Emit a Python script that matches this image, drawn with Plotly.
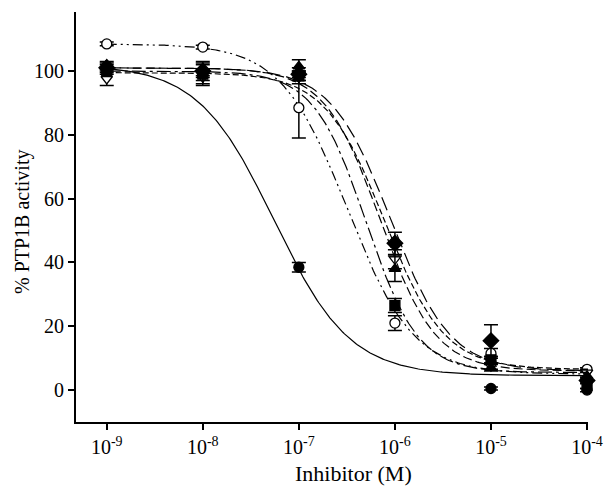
import numpy as np
import plotly.graph_objects as go

# concentrations (M)
conc = [1e-9, 1e-8, 1e-7, 1e-6, 1e-5, 1e-4]

# measured % activity (mean) and error
open_circle_y = [108.5, 107.5, 88.5, 21.0, 11.5, 6.5]
open_circle_e = [0.6, 0.6, 9.5, 2.3, 1.5, 0.5]
filled_circle_y = [101.5, 99.5, 38.5, None, 0.5, 0.0]
filled_circle_e = [1.0, 1.0, 1.5, 0.0, 0.5, 0.5]
tri_up_y = [102.0, 100.0, 101.5, 38.0, 7.0, 4.5]
tri_up_e = [1.0, 2.0, 2.0, 4.0, 1.0, 1.0]
tri_down_y = [97.5, 98.0, 98.0, 41.0, 7.5, 5.5]
tri_down_e = [2.0, 2.0, 2.0, 3.0, 1.0, 1.0]
diamond_y = [101.0, 100.0, 99.0, 46.0, 15.5, 3.0]
diamond_e = [1.0, 3.0, 2.0, 3.5, 5.0, 1.0]
square_y = [100.0, 99.0, 98.5, 26.5, 9.5, 1.5]
square_e = [1.0, 3.5, 1.5, 2.2, 1.0, 1.0]

# fitted 4-parameter logistic parameters: top, bottom, IC50, hill
fit_open_circle = (108.5, 5.0, 3.2e-7, 1.26)
fit_filled_circle = (102.0, 4.5, 5.5e-8, 1.1)
fit_tri_up = (101.0, 6.0, 7.0e-7, 1.5)
fit_tri_down = (99.5, 6.5, 7.8e-7, 1.4)
fit_diamond = (101.0, 6.0, 9.0e-7, 1.4)
fit_square = (100.0, 5.5, 5.0e-7, 1.6)

x_tick_vals = [1e-9, 1e-8, 1e-7, 1e-6, 1e-5, 1e-4]
x_tick_text = ["10<sup>-9</sup>", "10<sup>-8</sup>", "10<sup>-7</sup>",
               "10<sup>-6</sup>", "10<sup>-5</sup>", "10<sup>-4</sup>"]
y_tick_vals = [0, 20, 40, 60, 80, 100]
x_title = "Inhibitor (M)"
y_title = "% PTP1B activity"

xs = np.logspace(-9, -4, 300)


def curve(p):
    top, bot, ic50, h = p
    return bot + (top - bot) / (1 + (xs / ic50) ** h)


fig = go.Figure()

series = [
    (open_circle_y, open_circle_e, fit_open_circle, "circle", "white", "10px,4px,2px,4px,2px,4px"),
    (tri_down_y, tri_down_e, fit_tri_down, "triangle-down", "white", "6px,3px"),
    (square_y, square_e, fit_square, "square", "black", "14px,4px,3px,4px"),
    (tri_up_y, tri_up_e, fit_tri_up, "triangle-up", "black", "9px,4px"),
    (diamond_y, diamond_e, fit_diamond, "diamond", "black", "14px,6px"),
    (filled_circle_y, filled_circle_e, fit_filled_circle, "circle", "black", "solid"),
]

for y, e, p, sym, fill, dash in series:
    fig.add_trace(go.Scatter(x=xs, y=curve(p), mode="lines",
                             line=dict(color="black", width=1.2, dash=dash),
                             hoverinfo="skip", showlegend=False))

for y, e, p, sym, fill, dash in series:
    fig.add_trace(go.Scatter(
        x=conc, y=y, mode="markers", showlegend=False, cliponaxis=False,
        marker=dict(symbol=sym, size=10 if sym != "diamond" else 12, color=fill,
                    line=dict(color="black", width=1.3)),
        error_y=dict(type="data", array=e, visible=True, color="black",
                     thickness=1.5, width=7)))

fam = "Liberation Serif, Times New Roman, serif"
tick_font = dict(family=fam, size=20, color="black")

fig.update_layout(
    width=609, height=486,
    margin=dict(l=76, r=21, t=12, b=64),
    plot_bgcolor="white", paper_bgcolor="white",
    font=tick_font,
    xaxis=dict(type="log", range=[-9.32, -3.99], tickvals=x_tick_vals, ticktext=x_tick_text,
               showline=True, linecolor="black", linewidth=2, ticks="outside",
               ticklen=6, tickwidth=2, tickcolor="black", showgrid=False, zeroline=False,
               automargin=False, tickfont=tick_font),
    yaxis=dict(range=[-10, 118.5], tickvals=y_tick_vals,
               showline=True, linecolor="black", linewidth=2, ticks="outside",
               ticklen=6, tickwidth=2, tickcolor="black", showgrid=False, zeroline=False,
               automargin=False, tickfont=tick_font),
    annotations=[
        dict(text=x_title, xref="paper", yref="paper", x=(353 - 76) / 512, y=-(473 - 422) / 410,
             xanchor="center", yanchor="middle", showarrow=False,
             font=dict(family=fam, size=22, color="black")),
        dict(text=y_title, xref="paper", yref="paper", x=-(76 - 22) / 512, y=(422 - 222) / 410,
             xanchor="center", yanchor="middle", showarrow=False, textangle=-90,
             font=dict(family=fam, size=20, color="black")),
    ],
)

fig.write_html("out.html", config={"displayModeBar": False},
               post_script="document.body.style.margin='0';")
